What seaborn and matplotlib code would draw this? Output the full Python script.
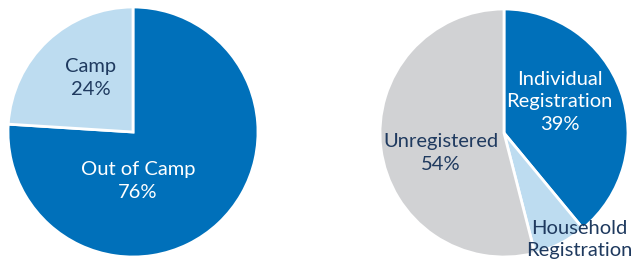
import matplotlib
matplotlib.use("Agg")
import matplotlib.pyplot as plt
import seaborn as sns

sns.set_theme(style="white")
plt.rcParams['font.family'] = ['Lato', 'DejaVu Sans']

# data
camp_labels = ["Out of Camp", "Camp"]
camp_values = [76, 24]
reg_labels = ["Individual\nRegistration", "Household\nRegistration", "Unregistered"]
reg_values = [39, 7, 54]

dark_blue = "#0070BA"
light_blue = "#BDDCF0"
grey = "#D1D2D4"
navy = "#1F3A5F"

W, H = 636, 264
fig = plt.figure(figsize=(W / 100, H / 100), dpi=100)


def pie_axes(cx, cy, r):
    # cx, cy in pixels from top-left
    ax = fig.add_axes([(cx - r) / W, (H - cy - r) / H, 2 * r / W, 2 * r / H])
    return ax


def finish(ax):
    ax.set_xlim(-1, 1)
    ax.set_ylim(-1, 1)
    ax.axis("off")


ax1 = pie_axes(133, 132, 125)
ax1.pie(camp_values, colors=[dark_blue, light_blue], startangle=90,
        counterclock=False, radius=1,
        wedgeprops=dict(edgecolor="white", linewidth=2))
finish(ax1)
label_pos1 = [(0.04, -0.39), (-0.34, 0.43)]
label_col1 = ["white", navy]
for lab, v, (x, y), c in zip(camp_labels, camp_values, label_pos1, label_col1):
    ax1.text(x, y, f"{lab}\n{v}%", ha="center", va="center", color=c,
             fontsize=14.5, linespacing=1.45, clip_on=False)

ax2 = pie_axes(504, 133, 124)
ax2.pie(reg_values, colors=[dark_blue, light_blue, grey], startangle=90,
        counterclock=False, radius=1,
        wedgeprops=dict(edgecolor="white", linewidth=2))
finish(ax2)
label_pos2 = [(0.45, 0.25), (0.61, -0.86), (-0.51, -0.16)]
label_col2 = ["white", navy, navy]
for i, (lab, v, (x, y), c) in enumerate(zip(reg_labels, reg_values, label_pos2, label_col2)):
    txt = lab if i == 1 else f"{lab}\n{v}%"
    ax2.text(x, y, txt, ha="center", va="center", color=c,
             fontsize=14.5, linespacing=1.4, clip_on=False)

fig.savefig("out.png", dpi=100)
